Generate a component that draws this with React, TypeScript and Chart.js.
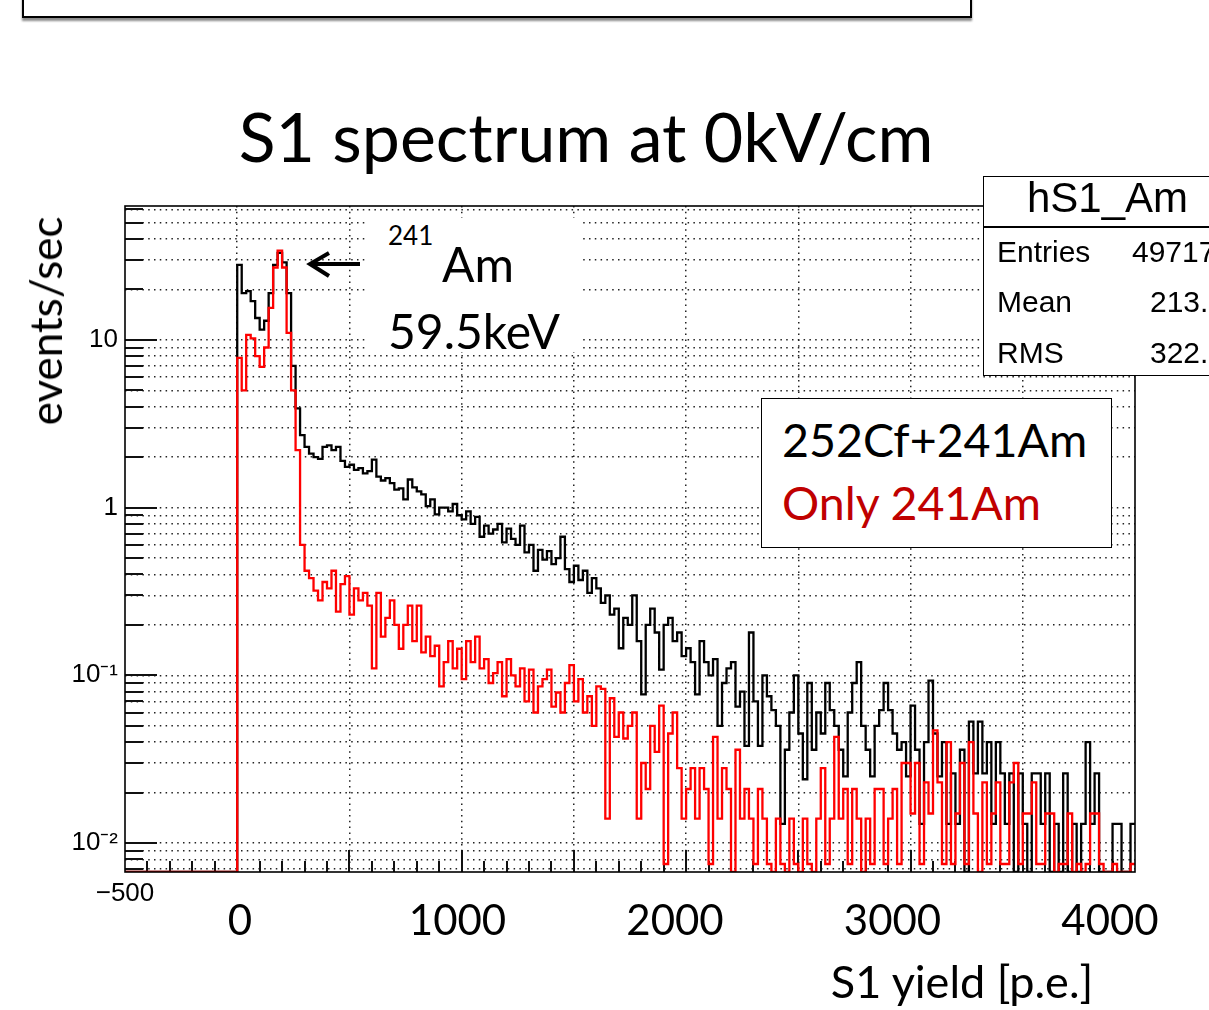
import React, { useEffect, useRef } from "react";
import { Chart, registerables } from "chart.js";

Chart.register(...registerables);

// ---------------- data ----------------
const BIN_WIDTH = 20; // p.e. per bin, bins start at 0
const X_MIN = -500;
const X_MAX = 4000;
const Y_MIN = 0.00672;
const Y_MAX = 62.8;

// 252Cf + 241Am (black), events/sec per bin
const cfAmRates = [
  28, 19, 19.5, 17, 13.5, 11.5, 13, 19, 28, 33, 29, 19, 7,
  3.9, 2.7, 2.3, 2.1, 2.0, 1.95, 2.3, 2.35, 2.2, 2.3, 1.9, 1.75, 1.8, 1.68, 1.72, 1.6, 1.65, 1.93, 1.53, 1.45, 1.5, 1.4, 1.28, 1.3, 1.12, 1.47, 1.32, 1.25, 1.2, 1.02, 1.12, 0.91, 1.0,
  1.0, 0.95, 1.05, 0.9, 0.85, 0.95, 0.8, 0.88, 0.67, 0.78, 0.7, 0.74, 0.8, 0.62, 0.75, 0.65, 0.6, 0.78, 0.54, 0.6, 0.42, 0.56, 0.49, 0.55, 0.46, 0.5, 0.67, 0.43, 0.36, 0.45, 0.37, 0.42, 0.31, 0.38,
  0.33, 0.27, 0.3, 0.23, 0.25, 0.145, 0.22, 0.2, 0.3, 0.16,
  0.077, 0.2, 0.25, 0.18, 0.108, 0.2, 0.22, 0.16, 0.18, 0.13,
  0.145, 0.12, 0.077, 0.16, 0.12, 0.1, 0.125,
  0.05, 0.09, 0.11, 0.12, 0.065, 0.08, 0.038, 0.18, 0.07, 0.038,
  0.1, 0.075, 0.062, 0.05, 0.013, 0.036, 0.06, 0.1, 0.045, 0.024,
  0.09, 0.036, 0.06, 0.045, 0.09, 0.062, 0.05, 0.036, 0.025, 0.06,
  0.09, 0.12, 0.05, 0.036, 0.025, 0.05, 0.062, 0.09, 0.062, 0.045,
  0.036,
  0.04, 0.025, 0.066, 0.036, 0.013, 0.04, 0.093, 0.045, 0.025, 0.04,
  0.013, 0.026, 0.013, 0.036, 0, 0.053, 0.026, 0.053, 0.026, 0.04,
  0.013, 0.04, 0.026, 0.013, 0.026, 0, 0.026, 0.013, 0, 0.026,
  0.026, 0.013, 0.026, 0, 0.013, 0, 0.026, 0, 0.013, 0,
  0.013, 0.04, 0.013, 0.026, 0, 0, 0, 0.013, 0.013, 0,
  0, 0.013,
];

// Only 241Am (red), events/sec per bin
const amOnlyRates = [
  7.8, 5.0, 10.7, 10.2, 8.0, 6.9, 9.0, 15.5, 27, 34, 27, 11, 5, 2.2, 0.6, 0.42,
  0.38, 0.32, 0.28, 0.36, 0.33, 0.42, 0.24, 0.35, 0.39, 0.23,
  0.33, 0.28, 0.31, 0.26, 0.11, 0.31, 0.17, 0.22, 0.28, 0.2,
  0.144, 0.2, 0.26, 0.16, 0.26, 0.137, 0.17, 0.13, 0.15, 0.086,
  0.12, 0.16, 0.11, 0.144, 0.095, 0.16, 0.12, 0.17, 0.11, 0.125,
  0.09, 0.103, 0.12, 0.075, 0.125, 0.1, 0.086, 0.11, 0.07, 0.108,
  0.06, 0.086, 0.095, 0.108, 0.065, 0.079, 0.06, 0.09, 0.115, 0.07,
  0.095, 0.06, 0.075, 0.05, 0.086, 0.083, 0.014, 0.073, 0.043, 0.06,
  0.042, 0.05, 0.06, 0.014, 0.03, 0.021, 0.05, 0.035, 0.066, 0.0075,
  0.045, 0.06, 0.028, 0.014, 0.021, 0.028, 0.014, 0.028, 0.021, 0.0075,
  0.043, 0.014, 0.028, 0.021, 0, 0.036, 0.014, 0.021, 0.014, 0.0075,
  0.021, 0.014, 0.0075, 0, 0.014, 0.0075, 0, 0.014, 0.0075, 0,
  0.014, 0.0075, 0, 0.014, 0.028, 0.0075, 0.014, 0.043, 0.014, 0.021,
  0.0075, 0.021, 0.014, 0, 0.014, 0.0075, 0.021, 0.021, 0.0075, 0.014,
  0.021, 0.0075, 0.03, 0.03, 0.015, 0.03, 0.0075, 0.023, 0.015, 0.047,
  0.023, 0.0075, 0.04, 0.0075, 0.015, 0.03, 0.0075, 0.04, 0.015, 0,
  0.023, 0.0075, 0.015, 0.023, 0.0075, 0.0075, 0.023, 0.03, 0.0075, 0.015,
  0.015, 0.023, 0.0075, 0.0075, 0.015, 0.015, 0, 0.0075, 0.0075, 0.015,
  0, 0.0075, 0, 0.0075, 0.015, 0.015, 0.0075, 0, 0, 0.0075,
  0, 0, 0, 0.0075,
];

const X_GRID_STEP = 500;
const X_MINOR_STEP = 100;
const Y_DECADES = [-3, -2, -1, 0, 1];
const Y_DECADE_LABELS: Record<string, string> = { "1": "10", "0": "1", "-1": "10\u207B\u00B9", "-2": "10\u207B\u00B2" };
const X_AXIS_LABEL = "\u2212500";

const TITLE = "S1 spectrum at 0kV/cm";
const Y_TITLE = "events/sec";
const X_TITLE = "S1 yield [p.e.]";
const SLIDE_X_LABELS = ["0", "1000", "2000", "3000", "4000"];
const LEGEND_ROWS = [
  { text: "252Cf+241Am", color: "#000000" },
  { text: "Only 241Am", color: "#C00000" },
];
const STATS_NAME = "hS1_Am";
const STATS_ROWS = [
  { key: "Entries", value: "49717" },
  { key: "Mean", value: "213.8" },
  { key: "RMS", value: "322.2" },
];

// --------------- helpers ---------------
function toSteps(rates: number[]) {
  const pts: { x: number; y: number }[] = [{ x: X_MIN, y: Y_MIN }];
  rates.forEach((r, i) => pts.push({ x: i * BIN_WIDTH, y: r > 0 ? r : Y_MIN }));
  const last = rates[rates.length - 1];
  pts.push({ x: rates.length * BIN_WIDTH, y: last > 0 ? last : Y_MIN });
  return pts;
}

function decadeOf(v: number): number | null {
  const l = Math.log10(v);
  const r = Math.round(l);
  return Math.abs(l - r) < 1e-9 ? r : null;
}

const rootAxesPlugin = {
  id: "rootAxes",
  beforeDatasetsDraw(chart: any) {
    const { ctx, chartArea: a, scales } = chart;
    const xs = scales.x;
    const ys = scales.y;
    ctx.save();
    ctx.strokeStyle = "#111";
    ctx.lineWidth = 2;
    ctx.setLineDash([]);
    for (const t of ys.ticks) {
      const py = Math.round(ys.getPixelForValue(t.value));
      if (py < a.top || py > a.bottom) continue;
      const len = decadeOf(t.value) !== null ? 32 : 18;
      ctx.beginPath();
      ctx.moveTo(a.left, py);
      ctx.lineTo(a.left + len, py);
      ctx.stroke();
    }
    for (let v = X_MIN + X_MINOR_STEP; v < X_MAX; v += X_MINOR_STEP) {
      const px = Math.round(xs.getPixelForValue(v));
      const len = v % X_GRID_STEP === 0 ? 22 : 11;
      ctx.beginPath();
      ctx.moveTo(px, a.bottom);
      ctx.lineTo(px, a.bottom - len);
      ctx.stroke();
    }
    ctx.restore();
  },
  afterDatasetsDraw(chart: any) {
    const { ctx, chartArea: a } = chart;
    ctx.save();
    ctx.strokeStyle = "#000";
    ctx.lineWidth = 1.6;
    ctx.setLineDash([]);
    ctx.strokeRect(a.left, a.top, a.right - a.left, a.bottom - a.top);
    ctx.restore();
  },
};

const LATO = "Lato, 'Open Sans', sans-serif";
const HELV = "'Liberation Sans', Arial, sans-serif";
const LATO_ASC = 0.887;
const HELV_ASC = 0.8465;

function Txt(props: {
  text: string;
  x: number;
  baseline: number;
  size: number;
  font: string;
  asc: number;
  color?: string;
  center?: boolean;
}) {
  const { text, x, baseline, size, font, asc, color = "#000", center = false } = props;
  return (
    <div
      style={{
        position: "absolute",
        left: x,
        top: baseline - asc * size,
        fontFamily: font,
        fontSize: size,
        lineHeight: `${size}px`,
        color,
        whiteSpace: "nowrap",
        transform: center ? "translateX(-50%)" : undefined,
      }}
    >
      {text}
    </div>
  );
}

export default function App() {
  const canvasRef = useRef<HTMLCanvasElement | null>(null);

  useEffect(() => {
    const canvas = canvasRef.current;
    if (!canvas) return;
    const xGrid: number[] = [];
    for (let v = X_MIN; v <= X_MAX; v += X_GRID_STEP) xGrid.push(v);
    const yTicks: number[] = [];
    for (const d of Y_DECADES) {
      for (let k = 1; k <= 9; k++) {
        const v = k * Math.pow(10, d);
        if (v >= Y_MIN && v <= Y_MAX) yTicks.push(v);
      }
    }
    const chart = new Chart(canvas, {
      type: "line",
      data: {
        datasets: [
          {
            label: LEGEND_ROWS[1].text,
            data: toSteps(amOnlyRates),
            borderColor: "#ff0000",
            borderWidth: 2.3,
            stepped: "before",
            pointRadius: 0,
            fill: false,
            order: 0,
          },
          {
            label: LEGEND_ROWS[0].text,
            data: toSteps(cfAmRates),
            borderColor: "#000000",
            borderWidth: 2.3,
            stepped: "before",
            pointRadius: 0,
            fill: false,
            order: 1,
          },
        ],
      },
      options: {
        animation: false,
        responsive: false,
        events: [],
        layout: { padding: { left: 0, top: 206, right: 74, bottom: 0 } },
        plugins: {
          legend: { display: false },
          tooltip: { enabled: false },
          title: { display: false },
        },
        scales: {
          x: {
            type: "linear",
            min: X_MIN,
            max: X_MAX,
            afterBuildTicks: (s: any) => {
              s.ticks = xGrid.map((v) => ({ value: v }));
            },
            afterFit: (s: any) => {
              s.height = 138;
            },
            grid: {
              drawTicks: false,
              lineWidth: 1.5,
              color: (c: any) =>
                c.tick && (c.tick.value === X_MIN || c.tick.value === X_MAX) ? "rgba(0,0,0,0)" : "#222",
            },
            border: { display: false, dash: [1.5, 4.3] },
            ticks: {
              autoSkip: false,
              maxRotation: 0,
              padding: 6,
              color: "#000",
              font: { family: "'Liberation Sans', Arial, sans-serif", size: 26 },
              callback: (v: any) => (Number(v) === X_MIN ? X_AXIS_LABEL : ""),
            },
          },
          y: {
            type: "logarithmic",
            min: Y_MIN,
            max: Y_MAX,
            afterBuildTicks: (s: any) => {
              s.ticks = yTicks.map((v) => ({ value: v }));
            },
            afterFit: (s: any) => {
              s.width = 125;
            },
            grid: { drawTicks: false, lineWidth: 1.5, color: "#222" },
            border: { display: false, dash: [1.5, 4.3] },
            ticks: {
              autoSkip: false,
              padding: 7,
              color: "#000",
              font: { family: "'Liberation Sans', Arial, sans-serif", size: 26 },
              callback: (v: any) => {
                const d = decadeOf(Number(v));
                if (d === null) return "";
                return Y_DECADE_LABELS[String(d)] ?? "";
              },
            },
          },
        },
      },
      plugins: [rootAxesPlugin],
    } as any);
    return () => chart.destroy();
  }, []);

  const slideStep = 217.5;

  return (
    <div
      style={{
        position: "absolute",
        left: 0,
        top: 0,
        width: 1209,
        height: 1010,
        overflow: "hidden",
        background: "#fff",
      }}
    >
      <canvas
        ref={canvasRef}
        width={1209}
        height={1010}
        style={{ position: "absolute", left: 0, top: 0, width: 1209, height: 1010, display: "block" }}
      />

      {/* top slide box */}
      <div
        style={{
          position: "absolute",
          left: 22,
          top: -20,
          width: 950,
          height: 38,
          boxSizing: "border-box",
          border: "2.5px solid #000",
          background: "#fff",
          boxShadow: "0 3px 2px rgba(0,0,0,0.45)",
        }}
      />

      {/* title */}
      <Txt text={TITLE} x={586} baseline={162} size={68} font={LATO} asc={LATO_ASC} center />

      {/* y title (rotated) */}
      <div
        style={{
          position: "absolute",
          left: 45,
          top: 321,
          transform: "translate(-50%, -50%) rotate(-90deg)",
          fontFamily: LATO,
          fontSize: 44,
          lineHeight: "44px",
          whiteSpace: "nowrap",
          color: "#000",
        }}
      >
        {Y_TITLE}
      </div>

      {/* slide x labels */}
      {SLIDE_X_LABELS.map((t, i) => (
        <Txt key={t} text={t} x={240 + i * slideStep} baseline={935} size={42} font={LATO} asc={LATO_ASC} center />
      ))}
      <Txt text={X_TITLE} x={962} baseline={999} size={45} font={LATO} asc={LATO_ASC} center />

      {/* annotation */}
      <div style={{ position: "absolute", left: 367, top: 218, width: 213, height: 134, background: "#fff" }} />
      <svg
        width={1209}
        height={1010}
        style={{ position: "absolute", left: 0, top: 0, pointerEvents: "none" }}
      >
        <line x1={360} y1={264} x2={311} y2={264} stroke="#000" strokeWidth={4} />
        <polyline points="329,253 310,264 329,276" fill="none" stroke="#000" strokeWidth={4} />
      </svg>
      <Txt text="241" x={388} baseline={245} size={26} font={LATO} asc={LATO_ASC} />
      <Txt text="Am" x={442} baseline={283} size={48} font={LATO} asc={LATO_ASC} />
      <Txt text="59.5keV" x={388} baseline={350} size={48} font={LATO} asc={LATO_ASC} />

      {/* legend */}
      <div
        style={{
          position: "absolute",
          left: 761,
          top: 398,
          width: 351,
          height: 150,
          boxSizing: "border-box",
          border: "1.5px solid #000",
          background: "#fff",
        }}
      />
      {LEGEND_ROWS.map((r, i) => (
        <Txt key={r.text} text={r.text} x={782} baseline={457 + i * 63} size={46.5} font={LATO} asc={LATO_ASC} color={r.color} />
      ))}

      {/* stats box */}
      <div
        style={{
          position: "absolute",
          left: 983,
          top: 176,
          width: 260,
          height: 200,
          boxSizing: "border-box",
          border: "1.5px solid #000",
          background: "#fff",
        }}
      />
      <div style={{ position: "absolute", left: 983, top: 226, width: 260, height: 1.5, background: "#000" }} />
      <Txt text={STATS_NAME} x={1027} baseline={213} size={42} font={HELV} asc={HELV_ASC} />
      {STATS_ROWS.map((r, i) => (
        <React.Fragment key={r.key}>
          <Txt text={r.key} x={997} baseline={262 + i * 50.5} size={30} font={HELV} asc={HELV_ASC} />
          <Txt text={r.value} x={i === 0 ? 1132 : 1150} baseline={262 + i * 50.5} size={30} font={HELV} asc={HELV_ASC} />
        </React.Fragment>
      ))}
    </div>
  );
}
